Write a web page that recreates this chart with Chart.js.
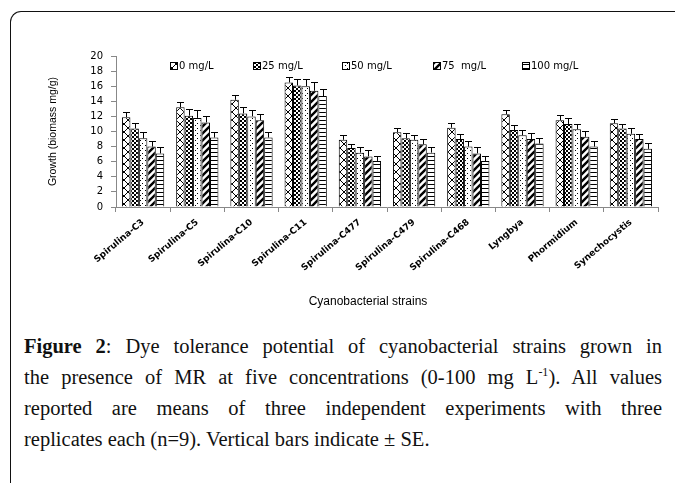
<!DOCTYPE html>
<html>
<head>
<meta charset="utf-8">
<script src="https://cdn.jsdelivr.net/npm/chart.js@4.4.0/dist/chart.umd.min.js"></script>
<style>
  body { margin: 0; background: #fff; width: 675px; height: 483px; overflow: hidden; position: relative; }
  #frame { position: absolute; left: 10px; top: 11px; width: 720px; height: 520px;
           border-top: 1.5px solid #111; border-left: 1.5px solid #111; border-top-left-radius: 11px; }
  #wrap { position: absolute; left: 0; top: 0; width: 675px; height: 312px; }
  #caption { position: absolute; left: 24px; top: 331px; width: 638px;
             font-family: "Liberation Serif", "DejaVu Serif", serif; font-size: 20.5px; line-height: 31px; color: #111; }
  #caption .ln { text-align: justify; text-align-last: justify; }
  #caption .last { text-align: left; text-align-last: left; }
  #caption sup { font-size: 12px; line-height: 0; }
</style>
</head>
<body>
<div id="frame"></div>
<div id="wrap"><canvas id="growthChart"></canvas></div>
<div id="caption">
  <div class="ln"><b>Figure 2</b>: Dye tolerance potential of cyanobacterial strains grown in</div>
  <div class="ln">the presence of MR at five concentrations (0-100 mg L<sup>-1</sup>). All values</div>
  <div class="ln">reported are means of three independent experiments with three</div>
  <div class="ln last">replicates each (n=9). Vertical bars indicate ± SE.</div>
</div>
<script>
// Data
const strains = ['Spirulina-C3', 'Spirulina-C5', 'Spirulina-C10', 'Spirulina-C11', 'Spirulina-C477',
                 'Spirulina-C479', 'Spirulina-C468', 'Lyngbya', 'Phormidium', 'Synechocystis'];
const concLabels = ['0 mg/L', '25 mg/L', '50 mg/L', '75  mg/L', '100 mg/L'];

const growth0   = [11.9, 13.2, 14.2, 16.5, 8.9, 9.9, 10.5, 12.3, 11.5, 11.1];
const growth25  = [10.4, 12.1, 12.4, 16.1, 7.8, 9.1, 9.0, 10.2, 11.0, 10.4];
const growth50  = [9.1, 11.8, 12.0, 16.0, 7.2, 8.9, 8.0, 9.5, 10.3, 9.7];
const growth75  = [8.0, 11.2, 11.5, 15.4, 6.7, 8.3, 7.1, 9.0, 9.3, 9.0];
const growth100 = [7.1, 9.2, 9.2, 14.7, 6.1, 7.2, 6.1, 8.4, 8.0, 7.7];

const se0   = [0.7, 0.7, 0.7, 0.7, 0.6, 0.6, 0.6, 0.6, 0.7, 0.6];
const se25  = [0.7, 0.9, 0.9, 0.8, 0.6, 0.7, 0.7, 0.7, 0.8, 0.6];
const se50  = [0.8, 1.0, 0.9, 0.9, 0.7, 0.7, 0.8, 0.7, 0.7, 0.7];
const se75  = [0.8, 0.9, 0.8, 1.1, 0.8, 0.7, 0.8, 0.8, 0.8, 0.7];
const se100 = [0.8, 0.8, 0.8, 0.9, 0.7, 0.7, 0.7, 0.8, 0.7, 0.8];

const yTicksMax = 20;
const yTickStep = 2;

// Fill patterns, like the old Excel bar fills
function makePattern(kind) {
    const size = { cross: 8, checker: 4, dots: 5, diag: 7, hline: 4 }[kind];
    const c = document.createElement('canvas');
    c.width = c.height = size;
    const g = c.getContext('2d');
    g.fillStyle = '#fff';
    g.fillRect(0, 0, size, size);
    g.fillStyle = '#000';
    g.strokeStyle = '#000';
    if (kind === 'cross') {
        g.lineWidth = 1;
        g.beginPath();
        g.moveTo(0, 0); g.lineTo(size, size);
        g.moveTo(size, 0); g.lineTo(0, size);
        g.stroke();
    } else if (kind === 'checker') {
        g.fillRect(0, 0, 2, 2);
        g.fillRect(2, 2, 2, 2);
        g.fillRect(1, 1, 1, 1);
    } else if (kind === 'dots') {
        g.fillRect(0, 0, 1, 1);
        g.fillRect(2, 3, 1, 1);
    } else if (kind === 'diag') {
        g.lineWidth = 2.4;
        g.beginPath();
        g.moveTo(-1, size + 1); g.lineTo(size + 1, -1);
        g.moveTo(-2, 2); g.lineTo(2, -2);
        g.moveTo(size - 2, size + 2); g.lineTo(size + 2, size - 2);
        g.stroke();
    } else if (kind === 'hline') {
        g.fillRect(0, 0, size, 1);
    }
    return g.createPattern(c, 'repeat');
}

const patterns = ['cross', 'checker', 'dots', 'diag', 'hline'].map(makePattern);
const seriesValues = [growth0, growth25, growth50, growth75, growth100];
const seriesErrors = [se0, se25, se50, se75, se100];

// Error bars (upper half only, the rest sits in the bar fill)
const errorBars = {
    id: 'errorBars',
    afterDatasetsDraw(chart) {
        const ctx = chart.ctx;
        const y = chart.scales.y;
        chart.data.datasets.forEach((ds, i) => {
            chart.getDatasetMeta(i).data.forEach((bar, j) => {
                const x = Math.round(bar.x) + 0.5;
                const top = Math.round(y.getPixelForValue(ds.data[j] + ds.se[j])) + 0.5;
                ctx.save();
                ctx.strokeStyle = '#000';
                ctx.lineWidth = 1;
                ctx.beginPath();
                ctx.moveTo(x, bar.y);
                ctx.lineTo(x, top);
                ctx.moveTo(x - 3.5, top);
                ctx.lineTo(x + 3.5, top);
                ctx.stroke();
                ctx.restore();
            });
        });
    }
};

// Legend sits inside the plot area, x title a bit left of centre
const legendSteps = [83, 89, 91, 89];
const innerLegend = {
    id: 'innerLegend',
    afterDraw(chart) {
        const ctx = chart.ctx;
        ctx.save();
        ctx.font = '10px "DejaVu Sans"';
        ctx.textBaseline = 'middle';
        let x = 170;
        const yMid = 66;
        chart.data.datasets.forEach((ds, i) => {
            ctx.fillStyle = ds.backgroundColor;
            ctx.fillRect(x, yMid - 4, 8, 8);
            ctx.strokeStyle = '#000';
            ctx.lineWidth = 1;
            ctx.strokeRect(x + 0.5, yMid - 3.5, 7, 7);
            ctx.fillStyle = '#000';
            ctx.fillText(ds.label, x + 9, yMid);
            x += legendSteps[i] || 0;
        });
        ctx.font = '12px "Liberation Sans"';
        ctx.textAlign = 'center';
        ctx.fillText('Cyanobacterial strains', 368, 302);
        ctx.restore();
    }
};

new Chart(document.getElementById('growthChart'), {
    type: 'bar',
    data: {
        labels: strains,
        datasets: seriesValues.map((vals, i) => ({
            label: concLabels[i],
            data: vals,
            se: seriesErrors[i],
            backgroundColor: patterns[i],
            borderColor: '#000',
            borderWidth: 1,
            categoryPercentage: 0.78,
            barPercentage: 1.0
        }))
    },
    options: {
        responsive: true,
        maintainAspectRatio: false,
        animation: false,
        layout: { padding: { top: 56, right: 17, bottom: 5, left: 43 } },
        plugins: {
            legend: { display: false },
            tooltip: { enabled: false }
        },
        scales: {
            x: {
                afterFit(scale) { scale.height = 100; },
                grid: { offset: true, drawOnChartArea: false, drawTicks: true, tickLength: 5, color: '#888' },
                border: { color: '#888' },
                ticks: {
                    minRotation: 40, maxRotation: 40, padding: 5, color: '#000',
                    font: { family: 'DejaVu Sans', size: 9, weight: 'bold' }
                }
            },
            y: {
                min: 0,
                max: yTicksMax,
                afterFit(scale) { scale.width = 73; },
                grid: { drawOnChartArea: false, drawTicks: true, tickLength: 5, color: '#888' },
                border: { color: '#888' },
                ticks: {
                    stepSize: yTickStep, padding: 8, color: '#000',
                    font: { family: 'DejaVu Sans', size: 10 }
                },
                title: {
                    display: true, text: 'Growth (biomass mg/g)', color: '#000',
                    font: { family: 'Liberation Sans', size: 10.5 }
                }
            }
        }
    },
    plugins: [errorBars, innerLegend]
});
</script>
</body>
</html>
